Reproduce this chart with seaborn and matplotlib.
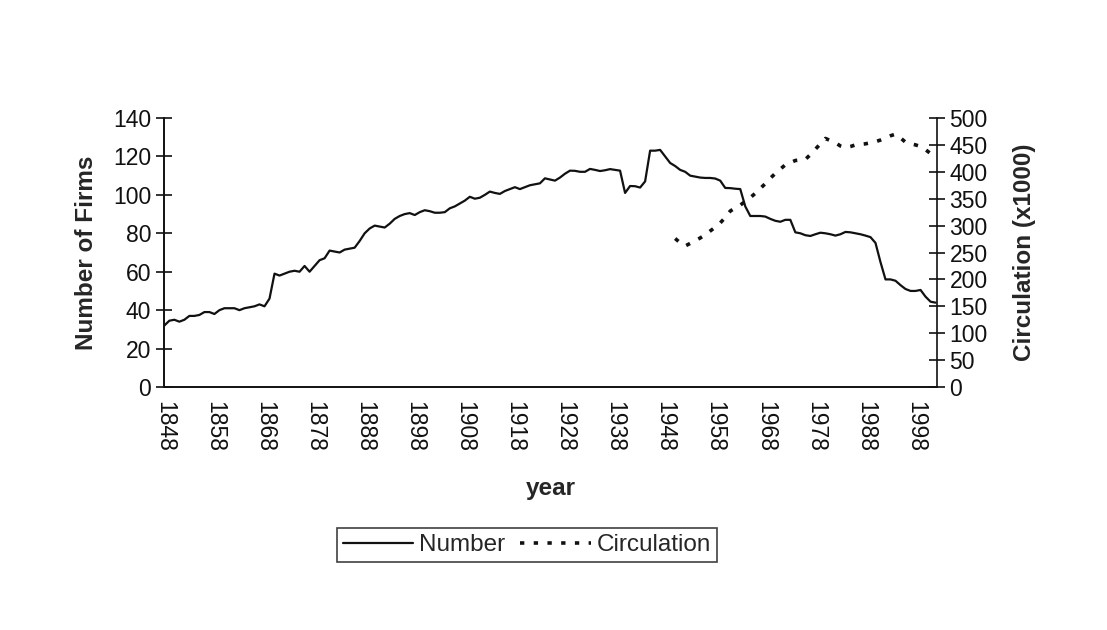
import numpy as np
import pandas as pd
import matplotlib
matplotlib.use("Agg")
import matplotlib.pyplot as plt
import seaborn as sns

# ---- data ----
number_years = list(range(1848, 2003))
number_values = [
    32, 34.5, 35, 34, 35, 37, 37, 37.5, 39, 39,            # 1848-1857
    38, 40, 41, 41, 41, 40, 41, 41.5, 42, 43,              # 1858-1867
    42, 46, 59, 58, 59, 60, 60.5, 60, 63, 60,              # 1868-1877
    63, 66, 67, 71, 70.5, 70, 71.5, 72, 72.5, 76,          # 1878-1887
    80, 82.5, 84, 83.5, 83, 85, 87.5, 89, 90, 90.5,        # 1888-1897
    89.5, 91, 92, 91.5, 90.7, 90.7, 91, 93, 94, 95.5,      # 1898-1907
    97, 99, 98, 98.5, 100, 101.7, 101, 100.5, 102, 103,    # 1908-1917
    104, 103, 104, 105, 105.5, 106, 108.6, 108, 107.4, 109,  # 1918-1927
    111, 112.6, 112.5, 112, 112, 113.5, 113, 112.4, 112.8, 113.4,  # 1928-1937
    113, 112.6, 101, 104.6, 104.5, 103.8, 107, 123, 123, 123.4,    # 1938-1947
    120, 116.6, 115, 113, 112, 110, 109.5, 109, 108.8, 108.8,      # 1948-1957
    108.5, 107.4, 103.6, 103.5, 103.2, 103, 94, 89, 89, 89,        # 1958-1967
    88.7, 87.5, 86.5, 86, 87, 87, 80.5, 80, 79, 78.6,              # 1968-1977
    79.5, 80.3, 80, 79.5, 78.8, 79.5, 80.7, 80.5, 80, 79.5,        # 1978-1987
    78.8, 78, 75, 65, 56, 56, 55.3, 53, 51, 50,                    # 1988-1997
    50, 50.5, 47, 44.4, 43.9,                                      # 1998-2002
]

circ_years = list(range(1950, 2003))
circ_values = [
    276, 268, 262, 267, 272, 277, 283, 290, 297, 305,      # 1950-1959
    315, 327, 333, 338, 345, 352, 360, 369, 378, 388,      # 1960-1969
    397, 405, 413, 417, 421, 422, 423, 432, 442, 452,      # 1970-1979
    462, 458, 454, 448, 445, 447, 450, 451, 452, 454,      # 1980-1989
    456, 459, 463, 467, 470, 463, 455, 452, 450, 447,      # 1990-1999
    441, 434, 430,                                         # 2000-2002
]

xtick_years = list(range(1848, 1999, 10))
left_ticks = list(range(0, 141, 20))
right_ticks = list(range(0, 501, 50))

df_num = pd.DataFrame({"year": number_years, "Number": number_values})
df_circ = pd.DataFrame({"year": circ_years, "Circulation": circ_values})

# ---- style ----
sns.set_theme(style="white")
plt.rcParams["font.family"] = ["Liberation Sans", "DejaVu Sans"]

TICK_FS = 16.5
LABEL_FS = 17.5

fig = plt.figure(figsize=(11.07, 6.30), dpi=100)
ax = fig.add_axes([0.148, 0.3857, 0.6985, 0.4270])
ax2 = ax.twinx()

sns.lineplot(data=df_num, x="year", y="Number", ax=ax, color="#111111",
             linewidth=1.6, label="Number", legend=False)
sns.lineplot(data=df_circ, x="year", y="Circulation", ax=ax2, color="#111111",
             linewidth=2.6, linestyle=(0, (1.2, 2.6)), label="Circulation",
             legend=False)

ax.set_xlim(1847.9, 2002.3)
ax.set_ylim(0, 140)
ax2.set_ylim(0, 500)

ax.set_xticks(xtick_years)
ax.set_xticklabels([str(y) for y in xtick_years], rotation=270, fontsize=TICK_FS)
ax.set_yticks(left_ticks)
ax.set_yticklabels([str(v) for v in left_ticks], fontsize=TICK_FS)
ax2.set_yticks(right_ticks)
ax2.set_yticklabels([str(v) for v in right_ticks], fontsize=TICK_FS)

for a in (ax, ax2):
    a.tick_params(direction="inout", length=12, width=1.2, color="#111111",
                  labelcolor="#111111")
    a.grid(False)
ax.tick_params(axis="x", pad=4)
ax.tick_params(axis="y", pad=3)
ax2.tick_params(axis="y", pad=3)

for a in (ax, ax2):
    a.spines["top"].set_visible(False)
    for s in ("left", "bottom", "right"):
        a.spines[s].set_color("#111111")
        a.spines[s].set_linewidth(1.2)
ax.spines["right"].set_visible(False)

ax.set_xlabel("year", fontsize=LABEL_FS, fontweight="bold", labelpad=18)
ax.set_ylabel("Number of Firms", fontsize=LABEL_FS, fontweight="bold", labelpad=11)
ax2.set_ylabel("Circulation (x1000)", fontsize=LABEL_FS, fontweight="bold", labelpad=18)

h1, l1 = ax.get_legend_handles_labels()
h2, l2 = ax2.get_legend_handles_labels()
leg = fig.legend(h1 + h2, l1 + l2, loc="center",
                 bbox_to_anchor=(527 / 1107, 1 - 545 / 630), ncol=2,
                 fontsize=17.5, frameon=True, fancybox=False, shadow=False,
                 handlelength=2.9, handletextpad=0.25, columnspacing=0.6,
                 borderpad=0.25)
leg.get_frame().set_edgecolor("#111111")
leg.get_frame().set_linewidth(1.2)

fig.savefig("out.png", dpi=100, facecolor="white")
